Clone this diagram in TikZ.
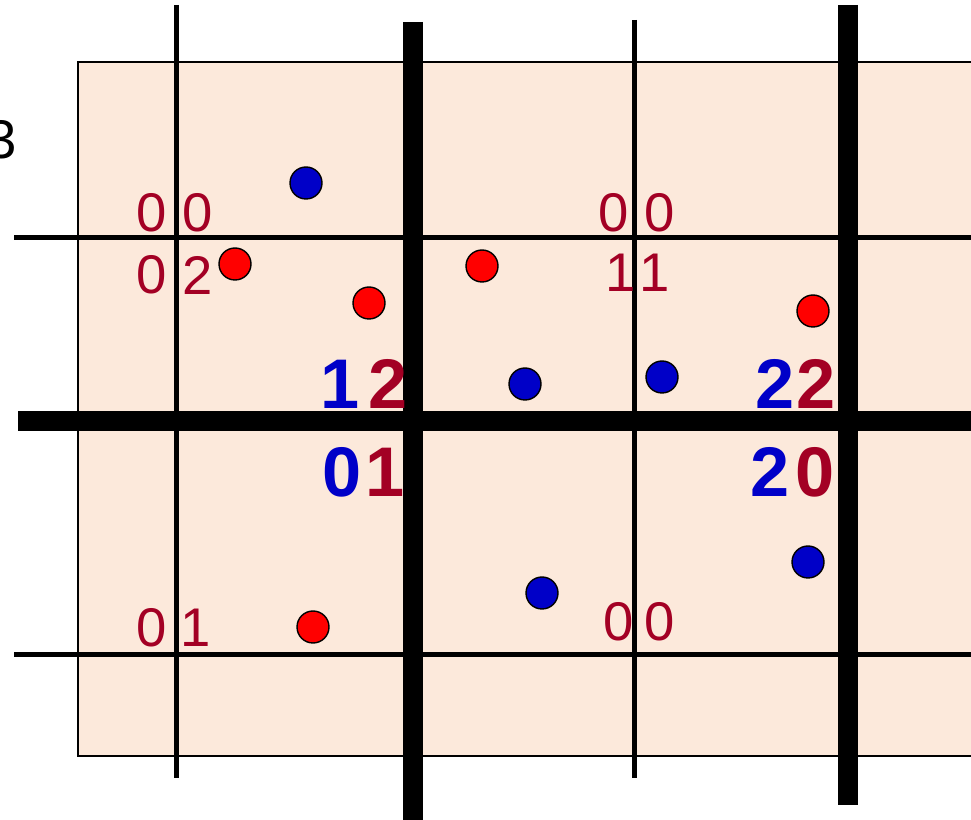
\documentclass[tikz,border=0pt]{standalone}
\usepackage{fontspec}
\setmainfont{Liberation Sans}
\usetikzlibrary{positioning}
\definecolor{peach}{HTML}{FCE9DB}
\definecolor{darkred}{HTML}{A30024}
\definecolor{deepblue}{HTML}{0000C8}

\begin{document}
\begin{tikzpicture}[
    x=0.02cm, y=-0.02cm,
    thinline/.style={line width=0.1cm},
    thickline/.style={line width=0.4cm},
    digit/.style={inner sep=0pt, font=\fontsize{31}{31}\selectfont},
    small/.style={digit, text=darkred},
    bigred/.style={inner sep=0pt, font=\fontsize{40}{40}\selectfont\bfseries, text=darkred},
    bigblue/.style={bigred, text=deepblue},
    dot/.style={circle, draw=black, line width=0.8pt, minimum size=0.64cm, inner sep=0pt},
    reddot/.style={dot, fill=red},
    bluedot/.style={dot, fill=deepblue}
]
\useasboundingbox (0,0) rectangle (971,820);
\fill[peach, draw=black, line width=0.6pt] (78,62) rectangle (990,756);

% grid lines
\draw[thinline] (176,5) -- (176,778);
\draw[thinline] (634,20) -- (634,778);
\draw[thickline] (413,22) -- (413,830);
\draw[thickline] (848,5) -- (848,805);
\draw[thinline] (14,238) -- (990,238);
\draw[thinline] (14,655) -- (990,655);
\draw[thickline] (18,421) -- (990,421);

\node[digit] (three) at (2,140) {3};

% small labels
\node[small] (a1) at (152,213) {0};
\node[small] (a2) at (198,213) {0};
\node[small] (b1) at (152,275) {0};
\node[small] (b2) at (198,275) {2};
\node[small] (c1) at (614,213) {0};
\node[small] (c2) at (660,213) {0};
\node[small] (d1) at (621,273) {1};
\node[small] (d2) at (655,273) {1};
\node[small] (e1) at (152,628) {0};
\node[small] (e2) at (196,628) {1};
\node[small] (f1) at (619,622) {0};
\node[small] (f2) at (660,622) {0};

% big labels
\node[bigblue] (g1) at (340,384) {1};
\node[bigred]  (g2) at (388,384) {2};
\node[bigblue] (h1) at (342,472) {0};
\node[bigred]  (h2) at (385,472) {1};
\node[bigblue] (i1) at (775,384) {2};
\node[bigred]  (i2) at (816,384) {2};
\node[bigblue] (j1) at (770,472) {2};
\node[bigred]  (j2) at (815,472) {0};

% points
\node[reddot] (r1) at (235,264) {};
\node[reddot] (r2) at (369,303) {};
\node[reddot] (r3) at (482,266) {};
\node[reddot] (r4) at (813,311) {};
\node[reddot] (r5) at (313,627) {};
\node[bluedot] (u1) at (306,183) {};
\node[bluedot] (u2) at (525,384) {};
\node[bluedot] (u3) at (662,377) {};
\node[bluedot] (u4) at (542,593) {};
\node[bluedot] (u5) at (808,562) {};
\end{tikzpicture}
\end{document}
